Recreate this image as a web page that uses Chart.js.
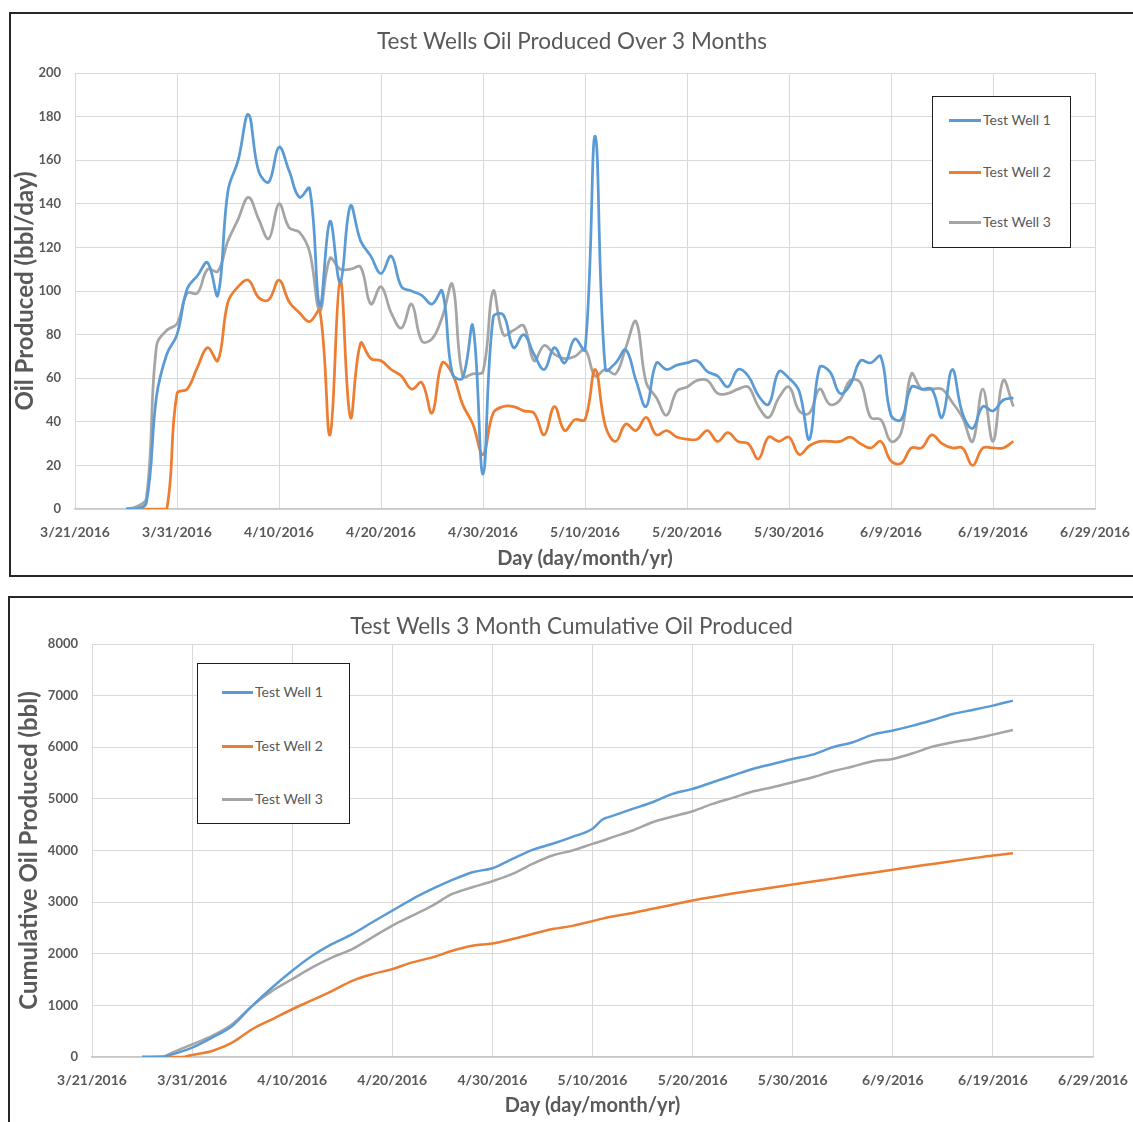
<!DOCTYPE html>
<html>
<head>
<meta charset="utf-8">
<title>Test Wells Oil Produced</title>
<script src="https://cdn.jsdelivr.net/npm/chart.js@4.4.1/dist/chart.umd.min.js"></script>
<style>
  body { margin: 0; background: #fff; width: 1133px; height: 1122px; overflow: hidden; position: relative; font-family: Lato, sans-serif; }
  .box { position: absolute; border: 2px solid #262626; background: #fff; }
  #box1 { left: 9px; top: 12px; width: 1140px; height: 561px; }
  #box2 { left: 8px; top: 596px; width: 1140px; height: 540px; }
  .box canvas { position: absolute; left: 0; top: 0; }
  .legend { position: absolute; box-sizing: border-box; border: 1.5px solid #1e1e1e; background: #fff; }
  .legend .line { position: absolute; height: 3px; }
  .legend .txt { position: absolute; font-size: 14px; color: #595959; line-height: 16px; white-space: nowrap; }
  #legend1 { left: 932px; top: 96px; width: 139px; height: 152px; }
  #legend2 { left: 197px; top: 663px; width: 153px; height: 161px; }
</style>
</head>
<body>
<div class="box" id="box1"><canvas id="daily_chart" width="1122" height="561"></canvas></div>
<div class="box" id="box2"><canvas id="cum_chart" width="1123" height="524"></canvas></div>
<div class="legend" id="legend1"></div>
<div class="legend" id="legend2"></div>
<script>
// x axis: days after 3/21/2016
const dateTicks = ["3/21/2016", "3/31/2016", "4/10/2016", "4/20/2016", "4/30/2016", "5/10/2016",
  "5/20/2016", "5/30/2016", "6/9/2016", "6/19/2016", "6/29/2016"];
const wellNames = ["Test Well 1", "Test Well 2", "Test Well 3"];
const wellColors = ["#5B9BD5", "#ED7D31", "#A5A5A5"];

// daily production, 3/26 .. 6/21
const dailyDays = [
  5, 6, 7, 8, 9, 10, 11, 12, 13, 14,
  15, 16, 17, 18, 19, 20, 21, 22, 23, 24,
  25, 26, 27, 28, 29, 30, 31, 32, 33, 34,
  35, 36, 37, 38, 39, 40, 41, 42, 43, 44,
  45, 46, 47, 48, 49, 50, 51, 52, 53, 54,
  55, 56, 57, 58, 59, 60, 61, 62, 63, 64,
  65, 66, 67, 68, 69, 70, 71, 72, 73, 74,
  75, 76, 77, 78, 79, 80, 81, 82, 83, 84,
  85, 86, 87, 88, 89, 90, 91, 92];
const well1Daily = [
  0, 0, 3, 52, 71, 80, 101, 107, 113, 98,
  146, 160, 181, 155, 150, 166, 155, 143, 147, 93,
  132, 104, 139, 123, 116, 108, 116, 102, 100, 98,
  94, 100, 62, 60, 84, 16, 88, 89, 74, 80,
  71, 64, 74, 67, 78, 73, 171, 64, 67, 73,
  59, 47, 67, 64, 66, 67, 68, 63, 61, 56,
  64, 61, 52, 48, 63, 60, 54, 32, 65, 63,
  53, 57, 68, 67, 70, 43, 41, 56, 55, 55,
  42, 64, 44, 37, 47, 45, 50, 51];
const well2Daily = [
  0, 0, 0, 0, 0, 53, 55, 65, 74, 68,
  95, 102, 105, 97, 96, 105, 95, 90, 86, 91,
  34, 105, 42, 76, 69, 68, 64, 61, 55, 58,
  44, 67, 62, 48, 39, 25, 44, 47, 47, 45,
  44, 34, 47, 36, 41, 41, 64, 38, 31, 39,
  36, 42, 34, 36, 33, 32, 32, 36, 31, 35,
  31, 30, 23, 33, 31, 33, 25, 29, 31, 31,
  31, 33, 30, 28, 31, 22, 21, 28, 28, 34,
  30, 28, 28, 20, 28, 28, 28, 31];
const well3Daily = [
  0, 1, 5, 75, 82, 85, 99, 99, 110, 109,
  123, 133, 143, 133, 124, 140, 129, 127, 118, 91,
  115, 110, 110, 111, 94, 102, 90, 83, 94, 77,
  78, 88, 103, 61, 62, 63, 100, 80, 82, 84,
  68, 75, 71, 69, 70, 73, 61, 64, 62, 74,
  86, 58, 51, 43, 54, 56, 59, 59, 53, 53,
  55, 56, 47, 42, 51, 56, 45, 44, 55, 48,
  50, 59, 58, 42, 41, 31, 35, 62, 55, 55,
  55, 49, 42, 31, 55, 31, 59, 47];

// cumulative production read at these days
const cumDays = [5, 7, 8, 9, 10,
  12, 14, 16, 18, 20, 22, 24, 26, 28, 30, 32, 34, 36, 38, 40, 42, 44, 46, 48, 50,
  51,
  52, 54, 56, 58, 60, 62, 64, 66, 68, 70, 72, 74, 76, 78, 80, 82, 84, 86, 88, 90, 92];
const well1Cum = [0, 3, 50, 110, 180,
  375, 600, 990, 1346, 1670, 1960, 2190, 2380, 2610, 2835, 3060, 3255, 3430, 3580, 3657, 3838, 4013, 4130, 4265, 4420,
  4600,
  4670, 4806, 4935, 5097, 5194, 5323, 5452, 5580, 5677, 5774, 5858, 6000, 6097, 6245, 6323, 6419, 6529, 6645, 6723, 6806, 6903];
const well2Cum = [0, 0, 0, 0, 40,
  117, 278, 537, 731, 925, 1100, 1282, 1476, 1605, 1702, 1832, 1929, 2058, 2155, 2200, 2285, 2382, 2479, 2540, 2632,
  2680,
  2720, 2790, 2870, 2950, 3032, 3100, 3165, 3225, 3285, 3342, 3400, 3455, 3515, 3570, 3626, 3685, 3740, 3795, 3850, 3903, 3948];
const well3Cum = [0, 5, 85, 165, 245,
  408, 634, 990, 1280, 1508, 1735, 1930, 2090, 2317, 2544, 2738, 2932, 3158, 3288, 3405, 3547, 3741, 3903, 4000, 4129,
  4190,
  4258, 4387, 4548, 4658, 4761, 4903, 5019, 5142, 5226, 5323, 5419, 5535, 5626, 5729, 5774, 5884, 6013, 6097, 6161, 6245, 6335];

const textColor = "#595959";
const gridColor = "#D9D9D9";

function points(days, values) {
  return days.map((d, i) => ({ x: d, y: values[i] }));
}

function makeDatasets(days, series, smooth) {
  return series.map((vals, i) => ({
    label: wellNames[i],
    data: points(days, vals),
    borderColor: wellColors[i],
    backgroundColor: wellColors[i],
    borderWidth: smooth ? 2.75 : 2.5,
    pointRadius: 0,
    fill: false,
    tension: smooth ? 0.4 : 0,
    cubicInterpolationMode: smooth ? "default" : "monotone",
  }));
}

function makeOptions(cfg) {
  return {
    responsive: false,
    animation: false,
    devicePixelRatio: 1,
    layout: { padding: 0 },
    plugins: {
      legend: { display: false },
      tooltip: { enabled: false },
      title: {
        display: true,
        text: cfg.title,
        color: textColor,
        font: { size: 22.5, weight: "normal" },
        padding: cfg.titlePad,
      },
    },
    scales: {
      x: {
        type: "linear",
        min: 0,
        max: 100,
        afterFit: (s) => { s.height = cfg.xHeight; },
        grid: { color: gridColor, drawTicks: true, tickLength: 15, tickColor: "rgba(0,0,0,0)" },
        border: { color: "#C8C8C8", width: 1.5 },
        ticks: {
          stepSize: 10,
          autoSkip: false,
          maxRotation: 0,
          padding: 0,
          color: textColor,
          font: { size: 14, weight: "bold" },
          callback: (v) => dateTicks[v / 10],
        },
        title: {
          display: true,
          text: "Day (day/month/yr)",
          color: textColor,
          font: { size: 20, weight: "bold" },
          padding: { top: 0, bottom: 4 },
        },
      },
      y: {
        min: 0,
        max: cfg.yMax,
        afterFit: (s) => { s.width = cfg.yWidth; },
        grid: { color: gridColor, drawTicks: false },
        border: { display: false },
        ticks: {
          stepSize: cfg.yStep,
          padding: 14,
          color: textColor,
          font: { size: 13, weight: "bold" },
          callback: (v) => String(v),
        },
        title: {
          display: true,
          text: cfg.yTitle,
          color: textColor,
          font: { size: 24, weight: "bold" },
          padding: { top: cfg.yTitlePad, bottom: 0 },
        },
      },
      // empty right-hand margin so the title stays centred on the whole chart
      yPad: {
        position: "right",
        afterFit: (s) => { s.width = cfg.padRight; },
        grid: { display: false },
        border: { display: false },
        ticks: { display: false },
      },
    },
  };
}

function buildLegend(el, chart, rows, lineLeft, lineWidth, textLeft) {
  chart.data.datasets.forEach((ds, i) => {
    const line = document.createElement("div");
    line.className = "line";
    line.style.left = lineLeft + "px";
    line.style.width = lineWidth + "px";
    line.style.top = (rows[i] - 1.5) + "px";
    line.style.background = ds.borderColor;
    el.appendChild(line);
    const txt = document.createElement("div");
    txt.className = "txt";
    txt.style.left = textLeft + "px";
    txt.style.top = (rows[i] - 8) + "px";
    txt.textContent = ds.label;
    el.appendChild(txt);
  });
}

Chart.defaults.font.family = "Lato, sans-serif";

const c1 = document.getElementById("daily_chart").getContext("2d");
const dailyChart = new Chart(c1, {
  type: "line",
  data: { datasets: makeDatasets(dailyDays, [well1Daily, well2Daily, well3Daily], true) },
  options: makeOptions({
    title: "Test Wells Oil Produced Over 3 Months",
    titlePad: { top: 14.5, bottom: 17.5 },
    padRight: 38,
    xHeight: 66,
    yWidth: 64,
    yMax: 200,
    yStep: 20,
    yTitle: "Oil Produced (bbl/day)",
    yTitlePad: 0,
  }),
});

const c2 = document.getElementById("cum_chart").getContext("2d");
const cumChart = new Chart(c2, {
  type: "line",
  data: { datasets: makeDatasets(cumDays, [well1Cum, well2Cum, well3Cum], false) },
  options: makeOptions({
    title: "Test Wells 3 Month Cumulative Oil Produced",
    titlePad: { top: 15.5, bottom: 3.5 },
    padRight: 40,
    xHeight: 65,
    yWidth: 82,
    yMax: 8000,
    yStep: 1000,
    yTitle: "Cumulative Oil Produced (bbl)",
    yTitlePad: 5,
  }),
});

buildLegend(document.getElementById("legend1"), dailyChart, [23, 75, 125], 16, 32, 50);
buildLegend(document.getElementById("legend2"), cumChart, [28, 82, 135], 24, 31, 57);
</script>
</body>
</html>
